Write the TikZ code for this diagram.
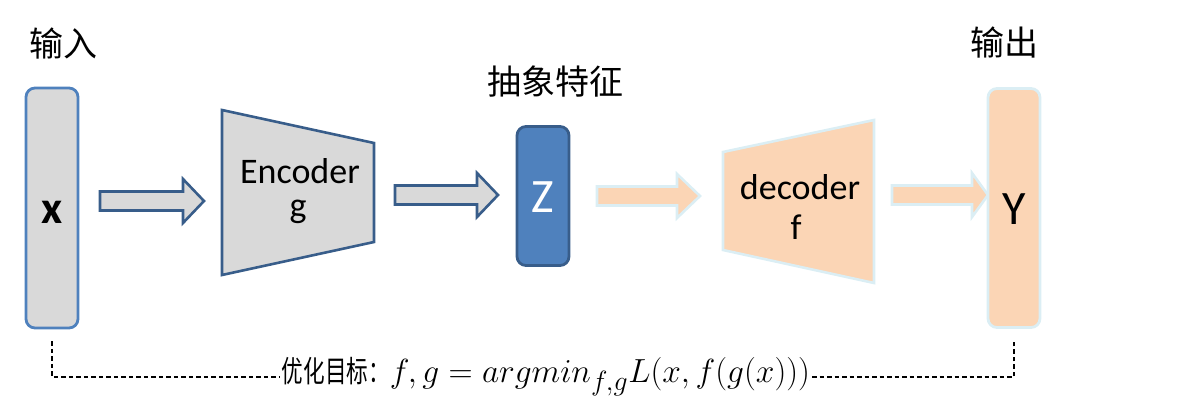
\documentclass[tikz,border=0pt]{standalone}
\usepackage{fontspec}
\usepackage{graphicx}
\setmainfont{Carlito}
\newfontfamily\cjk{Noto Sans CJK SC}
\definecolor{grayfill}{HTML}{D9D9D9}
\definecolor{accblue}{HTML}{4F81BD}
\definecolor{darkblue}{HTML}{385D8A}
\definecolor{orangefill}{HTML}{FBD5B5}
\definecolor{paleblue}{HTML}{DBEEF4}
\newcommand\myarrow[5]{%
  \draw[#5] (#1,#4-9.5) -- (#2,#4-9.5) -- (#2,#4-22) -- (#3,#4) -- (#2,#4+22) -- (#2,#4+9.5) -- (#1,#4+9.5) -- cycle;}
\begin{document}
\begin{tikzpicture}[x=1pt,y=-1pt,
  vbox/.style={rectangle, rounded corners=9pt, line width=2.8pt, inner sep=0pt},
  grayshape/.style={fill=grayfill, draw=darkblue, line width=2.6pt, line join=miter},
  orangeshape/.style={fill=orangefill, draw=paleblue, line width=2.6pt, line join=miter},
  lbl/.style={font=\fontsize{36}{40}\selectfont, inner sep=0pt},
  big/.style={font=\fontsize{48}{52}\selectfont, inner sep=0pt},
  head/.style={font=\cjk\fontsize{34}{38}\selectfont, inner sep=0pt},
  objline/.style={dashed, dash pattern=on 4.5pt off 3pt, line width=1.3pt}]
\useasboundingbox (0,0) rectangle (1195,408);

% headings
\node[head] (tin) at (63,44) {输入};
\node[head] (tfeat) at (555,82) {抽象特征};
\node[head] (tout) at (1004,43) {输出};

% input box
\node[vbox, fill=grayfill, draw=accblue, minimum width=52pt, minimum height=240pt] (xbox) at (52,208) {};
\node[big, font=\bfseries\fontsize{46}{50}\selectfont] (xt) at (52,212) {x};

% arrow 1
\myarrow{100}{183}{204}{201}{grayshape}

% encoder
\draw[grayshape] (222,110) -- (374,143) -- (374,242) -- (222,275) -- cycle;
\node[lbl] (enc) at (300,171) {Encoder};
\node[lbl] (encg) at (298,212) {g};

% arrow 2
\myarrow{395}{477}{498}{195}{grayshape}

% z box
\node[vbox, fill=accblue, draw=darkblue, minimum width=52pt, minimum height=139pt] (zbox) at (543,196) {};
\node[big, text=white] (zt) at (543,197) {Z};

% arrow 3
\myarrow{597}{677}{700}{196}{orangeshape}

% decoder
\draw[orangeshape] (723,152) -- (874,120) -- (874,283) -- (723,250) -- cycle;
\node[lbl] (dec) at (800,187) {decoder};
\node[lbl] (decf) at (796,227) {f};

% arrow 4
\myarrow{892}{972}{988}{195}{orangeshape}

% y box
\node[vbox, fill=orangefill, draw=paleblue, minimum width=52pt, minimum height=239pt] (ybox) at (1014,208) {};
\node[big] (yt) at (1014,209) {Y};

% objective
\node[inner sep=2pt, font=\fontsize{30}{32}\selectfont] (obj) at (546,377) {\scalebox{0.72}[1]{\cjk 优化目标：}\resizebox{420pt}{!}{$f,g=argmin_{f,g}L(x,f(g(x)))$}};
\coordinate (xl) at ([yshift=-12pt]xbox.south);
\coordinate (yl) at ([yshift=-12pt]ybox.south);
\draw[objline] (xl) |- (obj.west);
\draw[objline] (obj.east) -| (yl);
\end{tikzpicture}
\end{document}
